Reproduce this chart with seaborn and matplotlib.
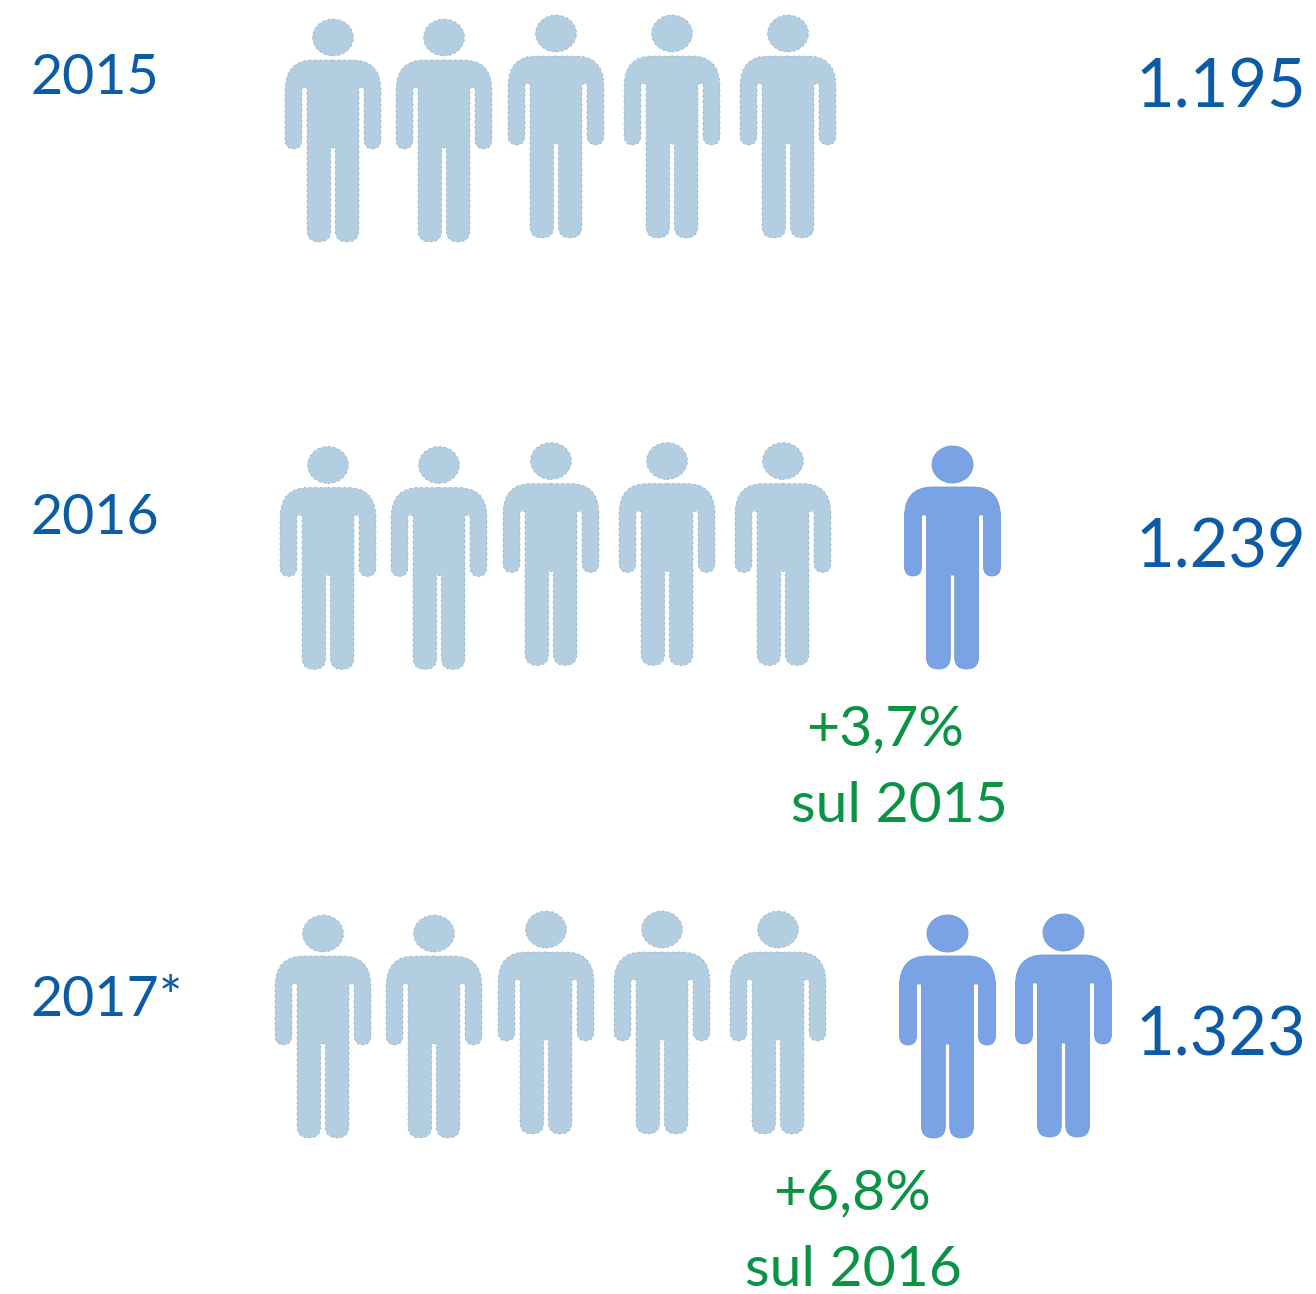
import matplotlib
matplotlib.use('Agg')
import matplotlib.pyplot as plt
from matplotlib.path import Path
from matplotlib.transforms import Affine2D
import pandas as pd
import seaborn as sns

# valori
years = ['2015', '2016', '2017*']
totals = ['1.195', '1.239', '1.323']
base_people = [5, 5, 5]
extra_people = [0, 1, 2]
changes = [None, '+3,7%', '+6,8%']
change_refs = [None, 'sul 2015', 'sul 2016']

# layout in pixel
row_y = [126.5, 554, 1022.5]
row_dx = [0, -5, -10]
slot_x = [333, 444, 556, 672, 788, 956.5, 1073]
slot_dy = [4, 4, 0, 0, 0, 3, 2]
year_y = [79, 519, 1000]
total_y = [88, 548, 1036]
change_pos = [None, (885, 730), (852, 1194)]
ref_pos = [None, (899, 806), (853, 1270)]

LIGHT = '#B3CEE0'
DARK = '#7AA3E5'
BLUE = '#0B5BA6'
GREEN = '#0A9345'


def person_marker():
    # mezza sagoma destra, poi specchiata
    right = [
        ('L', (20, 70.5)),
        ('Q', (48, 70.5), (48, 40)),
        ('L', (48, -9)),
        ('Q', (48, -18.5), (39.5, -18.5)),
        ('Q', (31, -18.5), (31, -9)),
        ('L', (31, 42.5)),
        ('L', (26, 42.5)),
        ('L', (26, -99.5)),
        ('Q', (26, -111.5), (14, -111.5)),
        ('Q', (2.2, -111.5), (2.2, -99.5)),
        ('L', (2.2, -17.5)),
    ]
    verts = [(0, 70.5)]
    codes = [Path.MOVETO]
    points = [(0, 70.5)]
    for seg in right:
        if seg[0] == 'L':
            verts.append(seg[1])
            codes.append(Path.LINETO)
        else:
            verts += [seg[1], seg[2]]
            codes += [Path.CURVE3, Path.CURVE3]
        points.append(seg[-1])
    # lato sinistro, percorso al contrario
    verts.append((-points[-1][0], points[-1][1]))
    codes.append(Path.LINETO)
    for i in range(len(right) - 1, -1, -1):
        seg = right[i]
        end = points[i]
        if seg[0] == 'L':
            verts.append((-end[0], end[1]))
            codes.append(Path.LINETO)
        else:
            verts += [(-seg[1][0], seg[1][1]), (-end[0], end[1])]
            codes += [Path.CURVE3, Path.CURVE3]
    verts.append((0, 70.5))
    codes.append(Path.CLOSEPOLY)
    body = Path(verts, codes)
    head = Path.unit_circle().transformed(Affine2D().scale(20.5, 18.5).translate(0, 93))
    return Path.make_compound_path(body, head)


rows = []
for r, year in enumerate(years):
    slots = list(range(base_people[r])) + [5 + k for k in range(extra_people[r])]
    for s in slots:
        rows.append({
            'year': year,
            'x': slot_x[s] + row_dx[r],
            'y': row_y[r] + slot_dy[s],
            'kind': 'base' if s < 5 else 'extra',
        })
df = pd.DataFrame(rows)

sns.set_theme(style='white')
plt.rcParams['font.family'] = ['Lato', 'DejaVu Sans']

dpi = 100
fig, ax = plt.subplots(figsize=(13.16, 12.94), dpi=dpi)
fig.subplots_adjust(left=0, right=1, top=1, bottom=0)

marker = person_marker()
size = (223 * 72 / dpi) ** 2

sns.scatterplot(data=df[df['kind'] == 'base'], x='x', y='y', color=LIGHT, marker=marker,
                s=size, edgecolor='#8A9CAB', linewidth=0.6, linestyle=(0, (1.5, 5)),
                legend=False, ax=ax)
sns.scatterplot(data=df[df['kind'] == 'extra'], x='x', y='y', color=DARK, marker=marker,
                s=size, edgecolor='#7399D8', linewidth=0.6, legend=False, ax=ax)

for r, year in enumerate(years):
    ax.text(30, year_y[r], year, color=BLUE, fontsize=40, ha='left', va='center')
    ax.text(1135, total_y[r], totals[r], color=BLUE, fontsize=48, ha='left', va='center')
    if changes[r]:
        ax.text(*change_pos[r], changes[r], color=GREEN, fontsize=41, ha='center', va='center')
        ax.text(*ref_pos[r], change_refs[r], color=GREEN, fontsize=41, ha='center', va='center')

ax.set_xlim(0, 1316)
ax.set_ylim(1294, 0)
ax.axis('off')

fig.savefig('out.png', dpi=dpi, facecolor='white')
